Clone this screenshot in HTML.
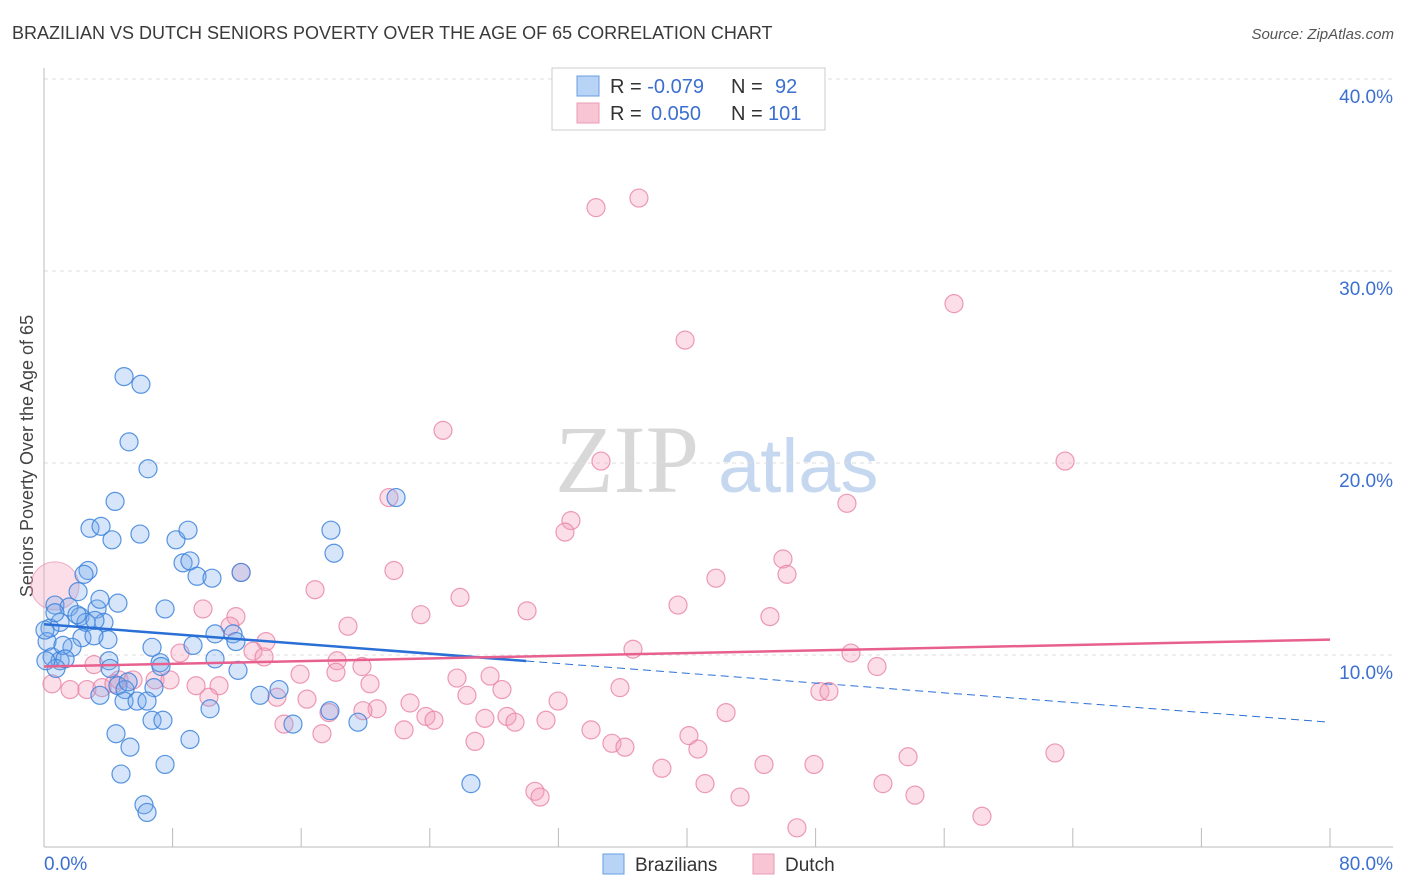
<!DOCTYPE html>
<html><head><meta charset="utf-8"><style>
body{margin:0;background:#fff;font-family:"Liberation Sans",sans-serif;}
svg{display:block}
</style></head><body>
<svg id="c" width="1406" height="892">
<text x="12" y="39" font-size="18" fill="#3a3a3a">BRAZILIAN VS DUTCH SENIORS POVERTY OVER THE AGE OF 65 CORRELATION CHART</text>
<text x="1394" y="39" font-size="15" fill="#555" font-style="italic" text-anchor="end">Source: ZipAtlas.com</text>
<text transform="translate(33,456) rotate(-90)" font-size="18" fill="#444" text-anchor="middle">Seniors Poverty Over the Age of 65</text>
<g>
<text x="555" y="492" font-size="96" font-family="Liberation Serif,serif" fill="#d8d8d8">ZIP</text>
<text x="718" y="492" font-size="76" fill="#c5d8f0">atlas</text>
</g>
<g id="grid"></g>
<g id="pts"></g>
<g id="lines"></g>
<g>
<rect x="552" y="68" width="273" height="62" fill="#fff" stroke="#ccc"/>
<rect x="577" y="76" width="22" height="20" fill="#b7d3f5" stroke="#6a9ee0"/>
<rect x="577" y="103" width="22" height="20" fill="#f8c5d5" stroke="#e89ab5"/>
<text x="610" y="93" font-size="20" fill="#333">R = <tspan fill="#3b6fd0">-0.079</tspan><tspan x="731">N = </tspan><tspan x="775" fill="#3b6fd0">92</tspan></text>
<text x="610" y="120" font-size="20" fill="#333">R = <tspan x="651" fill="#3b6fd0">0.050</tspan><tspan x="731">N = </tspan><tspan x="768" fill="#3b6fd0">101</tspan></text>
</g>
<g>
<rect x="603" y="854" width="21" height="20" fill="#b7d3f5" stroke="#6a9ee0"/>
<text x="635" y="871" font-size="19" fill="#333">Brazilians</text>
<rect x="753" y="854" width="21" height="20" fill="#f8c5d5" stroke="#e89ab5"/>
<text x="785" y="871" font-size="19" fill="#333">Dutch</text>
</g>
</svg>
<script>
const yTicks=[10,20,30,40];
const xTickLabels=["0.0%","80.0%"];
const blueX=[4.98,6.03,5.29,6.47,4.42,21.9,2.86,3.55,4.23,5.97,8.21,8.96,17.85,18.04,8.65,9.08,9.52,10.45,12.26,2.74,2.49,2.12,0.68,1.56,2.24,3.30,3.48,4.60,7.53,2.61,3.73,3.98,2.36,3.11,2.05,3.17,1.00,0.37,0.19,0.50,1.00,1.74,1.18,1.31,0.75,10.64,11.76,11.94,6.72,9.27,4.04,4.11,12.07,7.22,7.28,4.60,5.04,6.84,5.23,3.48,13.44,14.62,10.64,4.98,5.79,6.41,6.72,7.40,10.33,9.08,17.79,19.53,4.48,5.35,7.53,4.79,6.22,6.41,15.49,26.56,0.06,0.12,0.68];
const blueY=[24.5,24.1,21.1,19.7,18.0,18.2,16.6,16.7,16.0,16.3,16.0,16.5,16.5,15.3,14.8,14.9,14.1,14.0,14.3,14.4,14.2,13.3,12.6,12.5,12.0,12.4,12.9,12.7,12.4,11.7,11.7,10.8,10.9,11.0,12.1,11.8,11.7,11.4,10.7,9.9,9.7,10.4,10.5,9.8,9.3,11.1,11.1,10.7,10.4,10.5,9.7,9.3,9.2,9.6,9.4,8.4,8.2,8.3,8.6,7.9,7.9,8.2,9.8,7.6,7.6,7.6,6.6,6.6,7.2,5.6,7.1,6.5,5.9,5.2,4.3,3.8,2.2,1.8,6.4,3.3,11.3,9.7,12.2];
const pinkX=[37.01,34.34,56.61,39.88,24.82,34.65,63.52,21.46,49.95,32.78,32.41,45.97,21.77,41.80,46.22,12.26,16.86,25.88,9.89,11.94,11.57,30.05,39.44,23.45,45.16,18.91,13.81,13.00,13.69,36.64,50.20,8.46,51.82,18.23,19.78,3.11,15.93,18.16,20.28,25.69,27.75,4.67,6.91,7.84,28.49,35.83,48.27,48.83,0.50,1.62,2.67,3.61,4.35,5.54,9.46,10.89,10.26,16.36,20.72,22.77,26.31,31.98,14.49,14.93,17.29,17.73,19.84,23.76,24.26,27.43,28.80,29.30,31.23,34.03,42.43,40.12,35.33,36.14,40.68,26.81,22.40,53.75,62.89,38.44,44.79,47.90,41.12,52.19,43.30,54.18,30.54,30.86,46.84,58.35];
const pinkY=[33.8,33.3,28.3,26.4,21.7,20.1,20.1,18.2,17.9,17.0,16.4,15.0,14.4,14.0,14.2,14.3,13.4,13.0,12.4,12.0,11.5,12.3,12.6,12.1,12.0,11.5,10.7,10.2,9.9,10.3,10.1,10.1,9.4,9.7,9.4,9.5,9.0,9.1,8.5,8.8,8.9,8.7,8.7,8.7,8.2,8.3,8.1,8.1,8.5,8.2,8.2,8.3,8.5,8.7,8.4,8.4,7.8,7.7,7.2,7.5,7.9,7.6,7.8,6.4,5.9,7.0,7.1,6.8,6.6,6.7,6.8,6.5,6.6,6.1,7.0,5.8,5.4,5.2,5.1,5.5,6.1,4.7,4.9,4.1,4.3,4.3,3.3,3.3,2.6,2.7,2.9,2.6,1.0,1.6];
const bigPink=[0.68,13.6];
const blueTrend=[11.6,6.5];const blueSolidEnd=30.0;
const pinkTrend=[9.4,10.8];
const NS="http://www.w3.org/2000/svg";
function X(v){return 44+v*16.075;}
function Y(v){return 847-v*19.2;}
function mk(t,a,p){const e=document.createElementNS(NS,t);for(const k in a)e.setAttribute(k,a[k]);p.appendChild(e);return e;}
const svg=document.getElementById('c'),grid=document.getElementById('grid'),pts=document.getElementById('pts'),lines=document.getElementById('lines');
yTicks.forEach(t=>{
 const l=mk('line',{x1:44,x2:1393,y1:Y(t),y2:Y(t),stroke:'#ddd','stroke-dasharray':'4,4'},grid);
 
 
 const tx=mk('text',{x:1393,y:Y(t)+24,'font-size':19,fill:'#3b6fd0','text-anchor':'end'},grid);
 tx.textContent=t.toFixed(1)+'%';
 
 
});
const ax=mk('line',{x1:44,x2:44,y1:68,y2:847,stroke:'#bbb'},grid);


const bx=mk('line',{x1:44,x2:1393,y1:847,y2:847,stroke:'#bbb'},grid);


for(let i=1;i<=10;i++){
 const t=mk('line',{x1:X(i*8),x2:X(i*8),y1:828,y2:847,stroke:'#bbb'},grid);
 
 
}
[[0,'start',44],[80,'end',1393]].forEach((d,i)=>{
 const tx=mk('text',{x:d[2],y:870,'font-size':19,fill:'#3b6fd0','text-anchor':d[1]},grid);
 tx.textContent=xTickLabels[i];
 
 
});
pinkX.forEach((x,i)=>{
 const c=mk('circle',{cx:X(x),cy:Y(pinkY[i]),r:9,fill:'rgba(243,160,190,0.35)',stroke:'rgba(232,130,165,0.8)','stroke-width':1.2},pts);
 
 
});
const bp=mk('circle',{cx:X(bigPink[0]),cy:Y(bigPink[1]),r:24,fill:'rgba(243,160,190,0.35)',stroke:'rgba(232,130,165,0.6)'},pts);


blueX.forEach((x,i)=>{
 const c=mk('circle',{cx:X(x),cy:Y(blueY[i]),r:9,fill:'rgba(120,170,235,0.3)',stroke:'rgba(60,130,220,0.85)','stroke-width':1.2},pts);
 
 
});
function lerp(a,x){return a[0]+(a[1]-a[0])*x/80;}
const bl=mk('line',{x1:X(0),y1:Y(blueTrend[0]),x2:X(blueSolidEnd),y2:Y(lerp(blueTrend,blueSolidEnd)),stroke:'#2a6fd6','stroke-width':2.5},lines);


const bd=mk('line',{x1:X(blueSolidEnd),y1:Y(lerp(blueTrend,blueSolidEnd)),x2:X(80),y2:Y(blueTrend[1]),stroke:'#2a6fd6','stroke-width':1,'stroke-dasharray':'8,5'},lines);


const pl=mk('line',{x1:X(0),y1:Y(pinkTrend[0]),x2:X(80),y2:Y(pinkTrend[1]),stroke:'#e8608f','stroke-width':2.5},lines);


</script>
</body></html>
